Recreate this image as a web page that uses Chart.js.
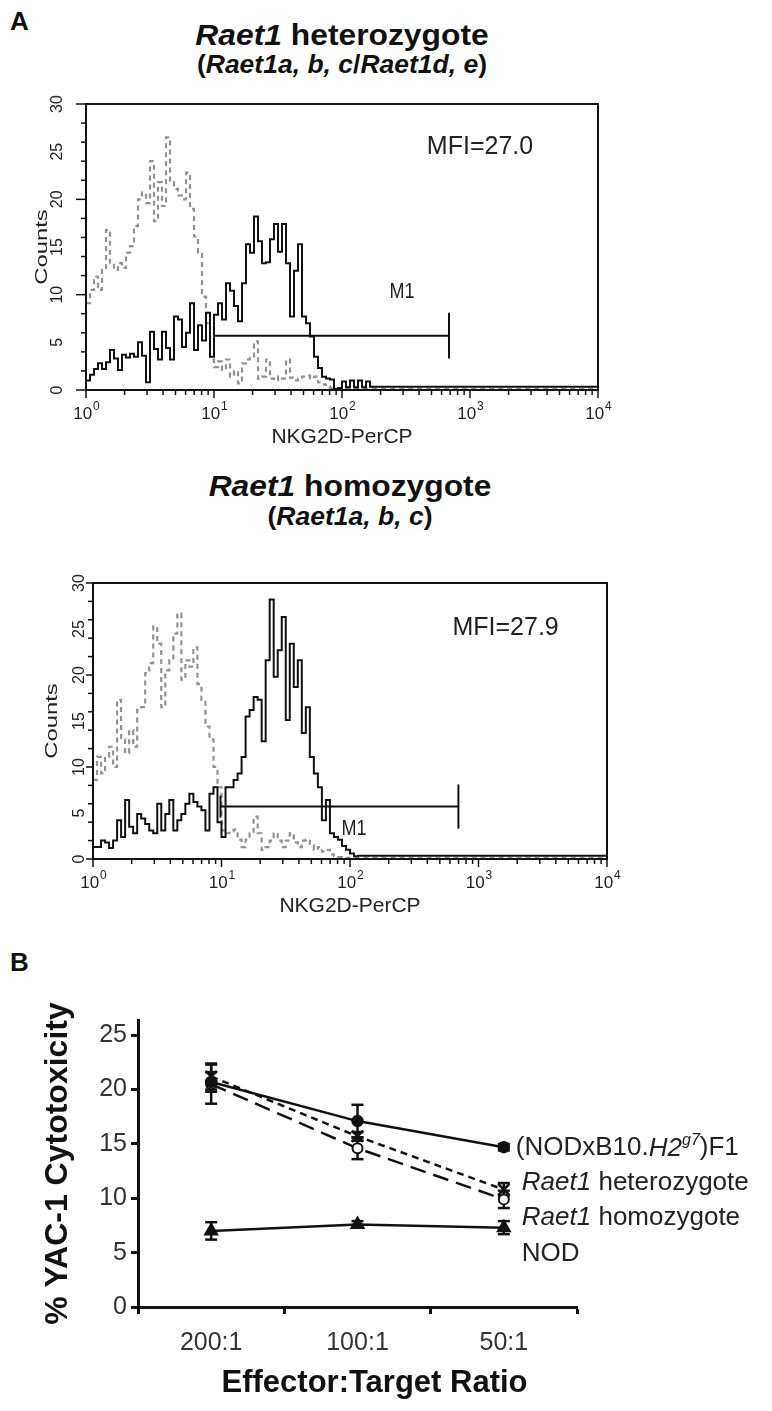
<!DOCTYPE html>
<html>
<head>
<meta charset="utf-8">
<script src="https://cdn.jsdelivr.net/npm/chart.js@4.4.1/dist/chart.umd.min.js"></script>
<style>
  html, body { margin: 0; padding: 0; background: #fff; }
  body { width: 772px; height: 1411px; position: relative; overflow: hidden;
         font-family: "Liberation Sans", Arial, sans-serif; color: #111; }
  .abs { position: absolute; line-height: 1; white-space: nowrap; }
  .panel { font-weight: bold; font-size: 26px; }
  .title { font-weight: bold; transform: translateX(-50%) scaleX(1.06); }
</style>
</head>
<body>
<div class="abs panel" style="left:10px; top:8px;">A</div>
<div class="abs title" style="left:342px; top:20px; font-size:30px;"><i>Raet1</i> heterozygote</div>
<div class="abs title" style="left:342px; top:52px; font-size:25px;">(<i>Raet1a, b, c</i>/<i>Raet1d, e</i>)</div>
<canvas id="histHet" class="abs" style="left:0; top:90px;" width="640" height="370"></canvas>

<div class="abs title" style="left:350px; top:471px; font-size:30px;"><i>Raet1</i> homozygote</div>
<div class="abs title" style="left:350px; top:504px; font-size:25px;">(<i>Raet1a, b, c</i>)</div>
<canvas id="histHom" class="abs" style="left:0; top:560px;" width="650" height="360"></canvas>

<div class="abs panel" style="left:10px; top:949px;">B</div>
<canvas id="cyto" class="abs" style="left:0; top:990px;" width="772" height="421"></canvas>

<script>
document.addEventListener('DOMContentLoaded', function() {

  const FAMILY = '"Liberation Sans", Arial, sans-serif';
  Chart.defaults.font.family = FAMILY;

  // ---- panel A: flow histograms, counts per 2-channel bin (64 channels per decade)
  const channelStep = 2;
  const channelMax = 256;
  const decadeLabels = ['0', '1', '2', '3', '4'];
  const countTicks = [0, 5, 10, 15, 20, 25, 30];

  const hetBlack = [1.0, 1.6, 2.2, 2.8, 2.2, 2.9, 4.2, 3.3, 2.1, 3.7,
    3.4, 3.8, 3.5, 5.0, 3.6, 0.8, 6.1, 4.3, 3.2, 6.1,
    4.4, 3.2, 7.7, 7.4, 4.5, 6.0, 9.1, 4.2, 6.8, 5.2,
    8.1, 3.5, 7.9, 9.1, 7.4, 11.2, 10.4, 8.8, 7.2, 11.2,
    15.3, 14.4, 18.2, 15.6, 13.3, 13.4, 15.8, 17.4, 14.5, 17.4,
    13.3, 7.7, 12.5, 15.3, 7.7, 7.0, 5.6, 3.5, 2.3, 1.4,
    1.2, 1.1, 0.1, 0.2, 0.9, 0.3, 1.0, 0.3, 1.0, 0.3, 0.9];
  const hetGray = [9.1, 10.5, 11.9, 10.5, 12.6, 16.8, 13.3, 12.6, 13.3, 12.8,
    14.4, 15.1, 17.2, 20.0, 20.7, 19.6, 24.0, 17.7, 21.8, 19.3,
    26.5, 21.8, 21.1, 20.4, 20.0, 22.8, 19.0, 16.1, 14.4, 9.8,
    7.0, 3.2, 2.4, 3.0, 2.1, 3.2, 1.4, 2.0, 0.7, 2.8,
    3.2, 3.4, 5.1, 1.2, 1.4, 3.2, 1.2, 1.0, 1.4, 1.2,
    3.2, 1.3, 1.0, 1.2, 1.4, 1.5, 1.2, 1.4, 0.8, 0.6,
    0.4, 0.2];
  const homBlack = [1.3, 1.3, 2.0, 1.8, 1.2, 2.0, 4.2, 2.4, 6.4, 3.5,
    2.8, 4.9, 4.4, 3.8, 3.1, 2.8, 6.0, 3.1, 4.9, 6.4,
    3.1, 4.2, 4.9, 6.0, 7.1, 6.2, 5.7, 5.3, 3.1, 7.1,
    7.8, 4.0, 2.4, 7.8, 7.8, 8.6, 9.3, 11.1, 15.5, 16.2,
    17.6, 17.3, 12.8, 21.6, 28.2, 19.8, 22.7, 26.3, 15.1, 23.4,
    18.7, 21.6, 13.7, 16.5, 11.1, 9.3, 7.8, 4.2, 6.4, 2.8,
    2.4, 2.1, 1.4, 1.0, 0.6, 0.3];
  const homGray = [8.6, 11.1, 9.3, 11.1, 12.2, 10.0, 17.3, 13.0, 11.5, 14.0,
    12.2, 16.2, 16.5, 20.2, 21.3, 25.3, 23.4, 16.5, 20.5, 21.6,
    24.5, 26.7, 19.5, 21.6, 20.9, 23.0, 19.0, 17.3, 14.4, 13.0,
    10.0, 7.8, 3.1, 2.8, 3.0, 3.2, 2.1, 1.3, 2.1, 2.8,
    4.6, 2.8, 1.0, 1.3, 2.0, 2.8, 2.0, 1.3, 2.0, 2.8,
    1.8, 1.3, 2.0, 2.1, 1.5, 1.0, 1.3, 0.8, 1.0, 0.5,
    0.3, 0.2];
  const tailBlack = 0.35;
  const tailGray = 0.12;

  // ---- panel B: % YAC-1 cytotoxicity, mean and error
  const ratios = ['200:1', '100:1', '50:1'];
  const f1Mean = [20.7, 17.1, 14.7];
  const f1Err = [0.9, 1.5, 0.3];
  const hetMean = [21.2, 15.7, 10.8];
  const hetErr = [1.2, 0.4, 0.6];
  const homMean = [20.5, 14.6, 9.9];
  const homErr = [1.8, 1.0, 0.8];
  const nodMean = [7.0, 7.6, 7.3];
  const nodErr = [0.8, 0.3, 0.6];

  function toPoints(vals, tail) {
    const pts = vals.map((v, i) => ({ x: i * channelStep, y: v }));
    pts.push({ x: vals.length * channelStep, y: tail });
    pts.push({ x: channelMax, y: tail });
    return pts;
  }

  function seg(ctx, x0, y0, x1, y1) {
    ctx.beginPath();
    ctx.moveTo(x0, y0);
    ctx.lineTo(x1, y1);
    ctx.stroke();
  }

  function drawPower(ctx, cx, baseY, exp) {
    const big = '17px ' + FAMILY, small = '12px ' + FAMILY;
    ctx.font = big;
    const w1 = ctx.measureText('10').width;
    ctx.font = small;
    const w2 = ctx.measureText(exp).width;
    const x0 = cx - (w1 + w2) / 2;
    ctx.textAlign = 'left';
    ctx.textBaseline = 'alphabetic';
    ctx.font = big;
    ctx.fillText('10', x0, baseY);
    ctx.font = small;
    ctx.fillText(exp, x0 + w1 + 1, baseY - 9);
  }

  function drawRuns(ctx, runs, x, y) {
    runs.forEach(r => {
      ctx.font = r.font;
      ctx.fillText(r.t, x, y + (r.dy || 0));
      x += ctx.measureText(r.t).width;
    });
  }

  // frame, ticks, gate and labels of the histograms
  const histoDecor = {
    id: 'histoDecor',
    afterDraw(chart, args, o) {
      const { ctx, chartArea: a, scales: { x, y } } = chart;
      ctx.save();
      ctx.strokeStyle = '#111';
      ctx.fillStyle = '#222';
      ctx.lineWidth = 2;
      ctx.strokeRect(a.left, a.top, a.right - a.left, a.bottom - a.top);

      ctx.lineWidth = 1.5;
      y.ticks.forEach(t => {
        const py = y.getPixelForValue(t.value);
        seg(ctx, a.left - (t.value % 5 === 0 ? o.majorLen : 5), py, a.left, py);
      });
      ctx.font = '16px ' + FAMILY;
      ctx.textAlign = 'center';
      ctx.textBaseline = 'middle';
      countTicks.forEach(v => {
        ctx.save();
        ctx.translate(a.left - o.labelOff, y.getPixelForValue(v));
        ctx.rotate(-Math.PI / 2);
        ctx.fillText(String(v), 0, 0);
        ctx.restore();
      });
      ctx.save();
      ctx.translate(a.left - o.countsOff, (a.top + a.bottom) / 2);
      ctx.rotate(-Math.PI / 2);
      ctx.scale(1.4, 1);
      ctx.font = '17px ' + FAMILY;
      ctx.fillText('Counts', 0, 0);
      ctx.restore();

      x.ticks.forEach((t, i) => {
        const px = x.getPixelForValue(t.value);
        seg(ctx, px, a.bottom, px, a.bottom + 8);
        if (i < x.ticks.length - 1) {
          for (let k = 2; k <= 9; k++) {
            const mx = x.getPixelForValue(t.value + 64 * Math.log10(k));
            seg(ctx, mx, a.bottom, mx, a.bottom + 5);
          }
        }
        drawPower(ctx, px, a.bottom + 29, decadeLabels[i]);
      });

      ctx.font = '21px ' + FAMILY;
      ctx.textAlign = 'center';
      ctx.textBaseline = 'middle';
      ctx.fillText('NKG2D-PerCP', (a.left + a.right) / 2, a.bottom + 47);

      // M1 gate
      const m = o.m1;
      const gy = y.getPixelForValue(m.level);
      const gx0 = x.getPixelForValue(m.from), gx1 = x.getPixelForValue(m.to);
      ctx.lineWidth = 2;
      seg(ctx, gx0, gy, gx1, gy);
      seg(ctx, gx1, y.getPixelForValue(m.level + 2.4), gx1, y.getPixelForValue(m.level - 2.4));
      seg(ctx, gx0, y.getPixelForValue(m.level + 1.2), gx0, y.getPixelForValue(m.level - 1.2));
      ctx.save();
      ctx.translate(x.getPixelForValue(m.labelX), y.getPixelForValue(m.labelY));
      ctx.scale(1, 1.25);
      ctx.font = '18px ' + FAMILY;
      ctx.fillText('M1', 0, 0);
      ctx.restore();

      ctx.font = '25px ' + FAMILY;
      ctx.fillText(o.mfi.text, x.getPixelForValue(o.mfi.x), y.getPixelForValue(o.mfi.y));
      ctx.restore();
    }
  };

  function makeHist(id, black, gray, pad, deco) {
    new Chart(id, {
      type: 'line',
      data: {
        datasets: [
          { data: toPoints(black, tailBlack), borderColor: '#111', borderWidth: 2,
            stepped: true, pointRadius: 0, fill: false },
          { data: toPoints(gray, tailGray), borderColor: '#929292', borderWidth: 2.2,
            borderDash: [5, 4], stepped: true, pointRadius: 0, fill: false }
        ]
      },
      options: {
        responsive: false,
        animation: false,
        layout: { padding: pad },
        plugins: { legend: { display: false }, tooltip: { enabled: false }, histoDecor: deco },
        scales: {
          x: { type: 'linear', display: false, min: 0, max: channelMax, ticks: { stepSize: 64 } },
          y: { display: false, min: 0, max: 30, ticks: { stepSize: 1 } }
        }
      },
      plugins: [histoDecor]
    });
  }

  makeHist('histHet', hetBlack, hetGray,
    { left: 86, top: 14, right: 42, bottom: 70 },
    { majorLen: 10, labelOff: 28, countsOff: 44,
      m1: { from: 64, to: 181.5, level: 5.7, labelX: 158, labelY: 10.3 },
      mfi: { text: 'MFI=27.0', x: 197, y: 25.5 } });

  makeHist('histHom', homBlack, homGray,
    { left: 93, top: 23, right: 43, bottom: 61 },
    { majorLen: 7, labelOff: 13, countsOff: 41,
      m1: { from: 63.5, to: 182, level: 5.7, labelX: 130, labelY: 3.3 },
      mfi: { text: 'MFI=27.9', x: 205.5, y: 25.1 } });

  // ---- panel B
  const means = [f1Mean, hetMean, homMean, nodMean];
  const errs = [f1Err, hetErr, homErr, nodErr];

  const cytoDecor = {
    id: 'cytoDecor',
    beforeDatasetsDraw(chart) {
      const { ctx, scales: { y } } = chart;
      ctx.save();
      ctx.strokeStyle = '#111';
      ctx.lineWidth = 2.5;
      means.forEach((m, i) => {
        const pts = chart.getDatasetMeta(i).data;
        m.forEach((v, j) => {
          const px = pts[j].x;
          const yt = y.getPixelForValue(v + errs[i][j]);
          const yb = y.getPixelForValue(v - errs[i][j]);
          seg(ctx, px, yt, px, yb);
          seg(ctx, px - 6, yt, px + 6, yt);
          seg(ctx, px - 6, yb, px + 6, yb);
        });
      });
      ctx.restore();
    },
    afterDraw(chart) {
      const { ctx, scales: { x, y } } = chart;
      const reg = '26px ' + FAMILY, ital = 'italic 26px ' + FAMILY;
      const lx = x.getPixelForValue(2) + 12;
      ctx.save();
      ctx.fillStyle = '#222';
      ctx.textAlign = 'left';
      ctx.textBaseline = 'middle';
      drawRuns(ctx, [
        { t: '(NODxB10.', font: reg },
        { t: 'H2', font: ital },
        { t: 'g7', font: 'italic 16px ' + FAMILY, dy: -8 },
        { t: ')F1', font: reg }
      ], lx, y.getPixelForValue(14.6));
      drawRuns(ctx, [{ t: 'Raet1', font: ital }, { t: ' heterozygote', font: reg }],
        lx + 6, y.getPixelForValue(11.4));
      drawRuns(ctx, [{ t: 'Raet1', font: ital }, { t: ' homozygote', font: reg }],
        lx + 6, y.getPixelForValue(8.2));
      drawRuns(ctx, [{ t: 'NOD', font: reg }], lx + 6, y.getPixelForValue(4.9));

      ctx.fillStyle = '#111';
      ctx.textAlign = 'center';
      ctx.font = 'bold 31px ' + FAMILY;
      ctx.fillText('Effector:Target Ratio', (x.left + x.right) / 2 + 17, chart.height - 28);
      ctx.restore();
    }
  };

  const axisGrid = { drawOnChartArea: false, tickLength: 7, tickWidth: 3, tickColor: '#111' };
  const axisBorder = { width: 3, color: '#111' };

  new Chart('cyto', {
    type: 'line',
    data: {
      labels: ratios,
      datasets: [
        { data: f1Mean, borderColor: '#111', backgroundColor: '#111', borderWidth: 2.5,
          pointStyle: 'circle', pointRadius: 5 },
        { data: hetMean, borderColor: '#111', backgroundColor: '#111', borderWidth: 2.5,
          borderDash: [7, 5], pointStyle: 'crossRot', pointRadius: 8, pointBorderWidth: 2.5 },
        { data: homMean, borderColor: '#111', backgroundColor: '#fff', borderWidth: 2.5,
          borderDash: [16, 8], pointStyle: 'circle', pointRadius: 5, pointBorderWidth: 2 },
        { data: nodMean, borderColor: '#111', backgroundColor: '#111', borderWidth: 2.5,
          pointStyle: 'triangle', pointRadius: 6.5 }
      ]
    },
    options: {
      responsive: false,
      animation: false,
      layout: { padding: { top: 30, right: 195, left: 0, bottom: 0 } },
      plugins: { legend: { display: false }, tooltip: { enabled: false } },
      scales: {
        x: {
          offset: true,
          grid: Object.assign({ offset: true }, axisGrid),
          border: axisBorder,
          ticks: { font: { size: 25 }, color: '#333', padding: 14 },
          afterFit(s) { s.height = 104; }
        },
        y: {
          min: 0,
          max: 26.4,
          ticks: { stepSize: 5, includeBounds: false, font: { size: 25 }, color: '#333', padding: 4 },
          grid: axisGrid,
          border: axisBorder,
          title: { display: true, text: '% YAC-1 Cytotoxicity', color: '#111',
                   font: { size: 32, weight: 'bold' }, padding: { top: 39, bottom: 0 } },
          afterFit(s) { s.width = 138; }
        }
      }
    },
    plugins: [cytoDecor]
  });
});
</script>
</body>
</html>
